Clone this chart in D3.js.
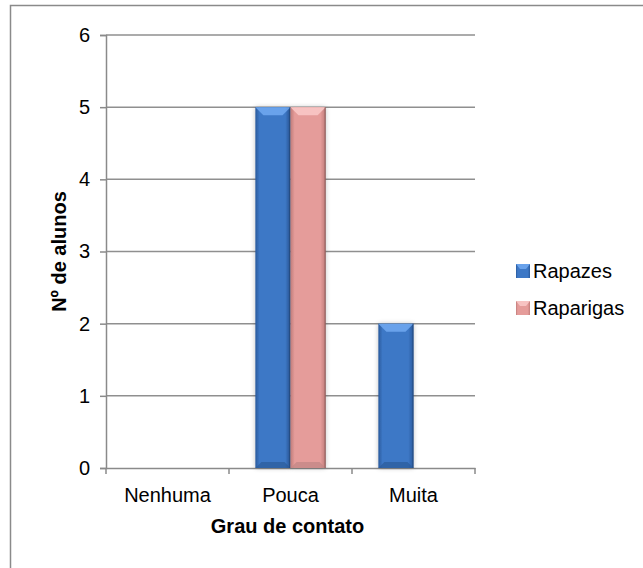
<!DOCTYPE html>
<html>
<head>
<meta charset="utf-8">
<script src="https://cdn.jsdelivr.net/npm/d3@7"></script>
<style>
  html, body { margin: 0; padding: 0; background: #fff; }
  svg { display: block; font-family: "Liberation Sans", Arial, sans-serif; }
</style>
</head>
<body>
<svg id="chart" width="643" height="568"></svg>
<script>
const categories = ["Nenhuma", "Pouca", "Muita"];
const seriesNames = ["Rapazes", "Raparigas"];
const rapazes = [0, 5, 2];
const raparigas = [0, 5, 0];
const yTicks = [0, 1, 2, 3, 4, 5, 6];
const xTitle = "Grau de contato";
const yTitle = "Nº de alunos";

const seriesValues = { "Rapazes": rapazes, "Raparigas": raparigas };
const colors = {
  "Rapazes":   { main: "#3d78c6", edge: "#2a5a9c", light: "#6ea6ee", dark: "#2b5b9a", line: "#1f3f6e" },
  "Raparigas": { main: "#e59c9a", edge: "#c07c7a", light: "#f8c8c6", dark: "#c08684", line: "#6e4745" }
};

const svg = d3.select("#chart");
const pLeft = 106, pRight = 475, pTop = 35, pBottom = 468;

// outer chart border
svg.append("rect").attr("x", 10.5).attr("y", 5.5).attr("width", 700).attr("height", 640)
  .attr("fill", "#fff").attr("stroke", "#8a8a8a").attr("stroke-width", 1.5);

const defs = svg.append("defs");
seriesNames.forEach((s, i) => {
  const c = colors[s];
  const g = defs.append("linearGradient").attr("id", "grad" + i).attr("x1", "0").attr("x2", "1").attr("y1", "0").attr("y2", "0");
  g.append("stop").attr("offset", "0").attr("stop-color", c.edge);
  g.append("stop").attr("offset", "0.12").attr("stop-color", c.main);
  g.append("stop").attr("offset", "0.85").attr("stop-color", c.main);
  g.append("stop").attr("offset", "1").attr("stop-color", c.edge);
});
const f = defs.append("filter").attr("id", "shadow").attr("x", "-30%").attr("y", "-10%").attr("width", "160%").attr("height", "120%");
f.append("feGaussianBlur").attr("in", "SourceAlpha").attr("stdDeviation", 2.5);
f.append("feComponentTransfer").append("feFuncA").attr("type", "linear").attr("slope", 0.25);
const fm = f.append("feMerge");
fm.append("feMergeNode");
fm.append("feMergeNode").attr("in", "SourceGraphic");

const x0 = d3.scaleBand().domain(categories).range([pLeft, pRight]).paddingInner(1.5 / 3.5).paddingOuter(0.75 / 3.5);
const x1 = d3.scaleBand().domain(seriesNames).range([0, x0.bandwidth()]);
const y = d3.scaleLinear().domain([0, 6]).range([pBottom, pTop]);

// gridlines
svg.append("g").selectAll("line").data(yTicks.filter(t => t > 0)).join("line")
  .attr("x1", pLeft).attr("x2", pRight)
  .attr("y1", d => y(d)).attr("y2", d => y(d))
  .attr("stroke", "#8f8f8f").attr("stroke-width", 1.5);

// y axis
const yAxis = d3.axisLeft(y).tickValues(yTicks).tickSize(6).tickPadding(10).tickFormat(d3.format("d"));
const yg = svg.append("g").attr("transform", `translate(${pLeft},0)`).call(yAxis);
yg.select(".domain").attr("stroke", "#8a8a8a").attr("stroke-width", 1.5);
yg.selectAll(".tick line").attr("stroke", "#8a8a8a").attr("stroke-width", 1.5);
yg.selectAll(".tick text").attr("font-size", 20).attr("fill", "#000").attr("font-family", "Liberation Sans, Arial, sans-serif");

// x axis
const xAxis = d3.axisBottom(x0).tickSize(0).tickPadding(20);
const xg = svg.append("g").attr("transform", `translate(0,${pBottom})`).call(xAxis);
xg.select(".domain").attr("stroke", "#8a8a8a").attr("stroke-width", 1.5);
xg.selectAll(".tick text").attr("font-size", 20).attr("fill", "#000").attr("font-family", "Liberation Sans, Arial, sans-serif");
// category boundary ticks
const step = x0.step();
const bounds = d3.range(categories.length + 1).map(i => pLeft + i * step);
svg.append("g").selectAll("line").data(bounds).join("line")
  .attr("x1", d => d).attr("x2", d => d).attr("y1", pBottom).attr("y2", pBottom + 6)
  .attr("stroke", "#8a8a8a").attr("stroke-width", 1.5);

// bars
const barData = [];
categories.forEach((cat, ci) => {
  seriesNames.forEach((s, si) => {
    const v = seriesValues[s][ci];
    if (v > 0) barData.push({ cat, s, si, v });
  });
});
const bars = svg.append("g").selectAll("g").data(barData).join("g");
bars.each(function(d) {
  const g = d3.select(this);
  const c = colors[d.s];
  const bx = x0(d.cat) + x1(d.s);
  const bw = x1.bandwidth();
  const by = y(d.v);
  const bh = y(0) - by;
  const bev = 8, bevB = 6;
  g.append("rect").attr("x", bx).attr("y", by).attr("width", bw).attr("height", bh)
    .attr("fill", `url(#grad${d.si})`).attr("filter", "url(#shadow)");
  g.append("polygon")
    .attr("points", [[bx, by], [bx + bw, by], [bx + bw - bev, by + bev], [bx + bev, by + bev]].map(p => p.join(",")).join(" "))
    .attr("fill", c.light).attr("opacity", 0.9);
  g.append("polygon")
    .attr("points", [[bx, by + bh], [bx + bw, by + bh], [bx + bw - bevB, by + bh - bevB], [bx + bevB, by + bh - bevB]].map(p => p.join(",")).join(" "))
    .attr("fill", c.dark).attr("opacity", 0.7);
  g.append("line").attr("x1", bx + bw - 0.5).attr("x2", bx + bw - 0.5).attr("y1", by).attr("y2", by + bh)
    .attr("stroke", c.line).attr("stroke-width", 1).attr("opacity", 0.7);
});

// axis titles
svg.append("text").attr("x", (pLeft + pRight) / 2 - 3).attr("y", 533)
  .attr("text-anchor", "middle").attr("font-size", 20).attr("font-weight", "bold").text(xTitle);
svg.append("text").attr("transform", `translate(66,${(pTop + pBottom) / 2}) rotate(-90)`)
  .attr("text-anchor", "middle").attr("font-size", 20).attr("font-weight", "bold").text(yTitle);

// legend
const legend = svg.append("g").selectAll("g").data(seriesNames).join("g")
  .attr("transform", (d, i) => `translate(516,${264 + i * 37})`);
legend.append("rect").attr("width", 14).attr("height", 14)
  .attr("fill", (d, i) => `url(#grad${i})`);
legend.append("polygon").attr("points", "0,0 14,0 10,5 4,5")
  .attr("fill", d => colors[d].light).attr("opacity", 0.9);
legend.append("text").attr("x", 17).attr("y", 14).attr("font-size", 20).text(d => d);
</script>
</body>
</html>
